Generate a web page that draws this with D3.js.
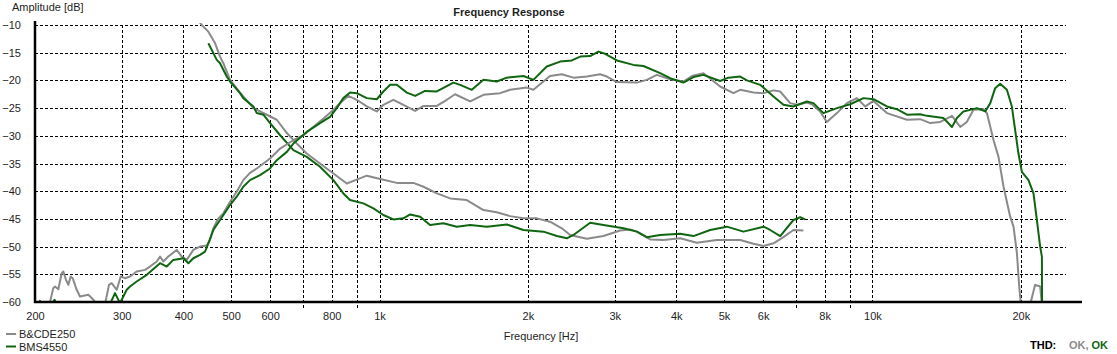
<!DOCTYPE html>
<html>
<head>
<meta charset="utf-8">
<script src="https://cdn.jsdelivr.net/npm/d3@7"></script>
<style>
  body { margin: 0; background: #fff; }
  svg { display: block; font-family: 'Liberation Sans', Arial, sans-serif; }
</style>
</head>
<body>
<svg id="chart" width="1117" height="354"></svg>
<script>
// ========= Data: [frequency Hz, amplitude dB] ========= //
const bcResponse = [
  [200, -60.2], [206, -62], [212, -62], [214.7, -59.9], [217.8, -57.5], [219.6, -57.2], [223, -57.7],
  [226.6, -54.8], [228.3, -54.5], [231.2, -56.0], [233.7, -56.9], [236.3, -55.4], [238.5, -55.7],
  [243, -57.8], [246.8, -59.0], [256.6, -58.7], [262.7, -59.6], [266.9, -60.4], [271, -62], [276, -62],
  [277.4, -60.4], [282.6, -56.9], [286.2, -56.6], [293, -57.8], [298.5, -55.4], [304.5, -55.7],
  [311.7, -55.4], [321.6, -54.5], [334.4, -54.2], [342.3, -53.6], [353.2, -52.7], [358.7, -51.8],
  [364.2, -52.7], [372.8, -51.8], [387.7, -50.6], [396.9, -51.8], [406.3, -52.4], [419, -50.6],
  [432.3, -50.0], [446.1, -49.8], [453, -48.8], [460.1, -46.7], [471, -44.9], [482.1, -44.0],
  [497.4, -41.9], [513.1, -40.1], [529.2, -38.0], [546, -36.7], [563.6, -35.9], [581.3, -35.0],
  [599.7, -34.1], [628.6, -32.3], [668.7, -30.8], [700.6, -29.9], [733.9, -28.4], [769.2, -26.9],
  [806.1, -25.3], [831.6, -24.1], [864.4, -22.8], [899, -23.5], [942.2, -24.7], [987.2, -25.6],
  [1018, -24.4], [1067, -23.5], [1118, -24.4], [1181, -25.5], [1228, -24.6], [1307, -24.6],
  [1369, -23.5], [1423, -22.5], [1527, -23.8], [1625, -22.6], [1756, -22.3], [1840, -21.7],
  [1989, -21.3], [2052, -21.7], [2218, -19.2], [2343, -18.9], [2474, -19.5], [2634, -19.3],
  [2803, -18.9], [2892, -19.3], [3030, -20.3], [3327, -20.4], [3486, -19.9], [3653, -19.0],
  [3887, -19.8], [4136, -20.2], [4302, -19.2], [4541, -18.7], [4909, -21.1], [5224, -22.3],
  [5391, -21.7], [5738, -22.2], [6013, -22.3], [6299, -21.8], [6499, -22.0], [6810, -24.1],
  [7027, -24.4], [7363, -24.0], [7536, -24.3], [7832, -25.6], [8081, -27.5], [8472, -25.9],
  [8874, -24.1], [9298, -23.2], [9668, -24.7], [10050, -23.7], [10700, -25.9], [11750, -27.1],
  [12500, -27.0], [13100, -27.7], [13730, -27.5], [14500, -26.4], [15070, -28.4], [15540, -27.5],
  [16030, -25.3], [16800, -25.2], [17070, -25.9], [17610, -30.8], [18020, -33.8], [18450, -39.2],
  [19030, -44.6], [19330, -46.4], [19640, -51.2], [19850, -57.2], [20010, -60.5], [20410, -63],
  [20890, -60.5], [21380, -56.9], [21890, -57.2], [22070, -60.5], [22400, -65]
];

const bmsResponse = [
  [201, -62], [204.7, -59.8], [207.6, -61.5], [212, -62], [216.6, -60.3], [219.1, -59.6],
  [221.4, -60.5], [224, -62], [250, -62], [280, -62],
  [283.9, -60.4], [290.6, -58.4], [297.5, -60.2], [307, -57.8], [311.7, -57.2], [321.6, -56.3],
  [337.1, -55.1], [358.7, -53.0], [370, -53.6], [381.6, -52.4], [400, -52.1], [409.4, -53.0],
  [419, -52.1], [432.3, -51.5], [442.6, -50.9], [449.5, -49.4], [460.1, -47.0], [474.7, -45.2],
  [497.4, -42.5], [513.1, -41.0], [529.2, -39.2], [546, -38.0], [572.2, -37.1], [599.7, -35.9],
  [618.8, -34.4], [648.6, -32.9], [668.7, -31.4], [711.7, -29.3], [757.3, -27.7], [793.7, -26.6],
  [818.9, -25.0], [844.5, -23.2], [871.3, -22.2], [899, -22.3], [942.2, -23.2], [987.2, -23.4],
  [1018, -22.0], [1051, -20.8], [1084, -20.8], [1136, -22.2], [1181, -22.8], [1237, -21.9],
  [1307, -22.0], [1412, -20.4], [1457, -20.8], [1539, -21.7], [1625, -19.9], [1729, -20.2],
  [1812, -19.5], [1959, -19.2], [2052, -19.9], [2184, -17.5], [2325, -16.6], [2455, -16.4],
  [2553, -15.7], [2675, -15.6], [2781, -14.8], [2869, -15.2], [3030, -16.4], [3274, -17.2],
  [3431, -17.4], [3709, -18.7], [3887, -19.6], [4136, -20.4], [4334, -19.4], [4541, -19.0],
  [4909, -20.1], [5103, -19.5], [5391, -19.3], [5563, -20.0], [5919, -20.8], [6299, -22.9],
  [6598, -24.4], [6914, -24.7], [7361, -23.8], [7592, -24.1], [7955, -25.9], [8472, -25.0],
  [9012, -24.3], [9590, -23.2], [10050, -23.4], [10700, -24.7], [11210, -25.2], [11750, -26.2],
  [12500, -26.1], [12900, -26.4], [13940, -26.8], [14500, -28.4], [14840, -26.8], [15300, -25.6],
  [16290, -25.0], [16940, -25.6], [17340, -24.1], [17740, -21.4], [18160, -20.6], [18740, -21.7],
  [19180, -24.7], [19480, -29.0], [19780, -33.2], [20100, -36.5], [20730, -38.0], [21220, -40.4],
  [21560, -45.2], [21890, -50.0], [22070, -51.8], [22080, -57.2], [22100, -65]
];

const bcLower = [
  [428, -9], [435.8, -10.0], [449.5, -11.2], [463.9, -13.3], [474.7, -15.7], [482.1, -16.9],
  [497.4, -19.9], [521.2, -22.2], [554.7, -25.0], [590.5, -26.2], [618.8, -27.1], [648.6, -29.5],
  [679.3, -31.4], [711.7, -33.2], [757.3, -35.0], [806.1, -36.8], [858.2, -38.6], [899, -37.9],
  [942.2, -37.2], [1003, -37.8], [1084, -38.5], [1171, -38.5], [1228, -39.2], [1307, -40.4],
  [1391, -41.3], [1503, -41.6], [1625, -43.4], [1729, -43.8], [1840, -44.5], [1959, -44.9],
  [2085, -44.9], [2218, -45.5], [2343, -46.7], [2436, -47.9], [2634, -48.6], [2846, -48.1],
  [3077, -47.1], [3225, -46.9], [3327, -47.3], [3540, -48.7], [3767, -48.8], [4073, -48.5],
  [4403, -49.3], [4834, -48.8], [5391, -48.8], [5738, -49.5], [6013, -49.9], [6299, -49.4],
  [6598, -48.3], [6914, -47.0], [7244, -47.1]
];

const bmsLower = [
  [449.5, -13.3], [467.5, -16.3], [474.7, -16.9], [489.8, -19.3], [497.4, -20.2], [521.2, -22.3],
  [529.2, -23.2], [554.7, -24.7], [563.6, -25.9], [581.3, -26.2], [599.7, -27.7], [628.6, -29.9],
  [668.7, -32.6], [711.7, -33.8], [757.3, -35.6], [806.1, -38.0], [844.5, -40.4], [871.3, -41.6],
  [927.4, -42.2], [971.8, -43.1], [1018, -44.3], [1067, -45.1], [1118, -44.9], [1154, -44.2],
  [1209, -44.6], [1266, -46.1], [1348, -45.8], [1435, -46.4], [1527, -46.1], [1651, -46.4],
  [1812, -46.0], [1959, -47.0], [2151, -47.3], [2290, -48.1], [2399, -48.5], [2474, -47.9],
  [2675, -45.7], [2846, -46.1], [3125, -46.7], [3327, -47.3], [3486, -48.3], [3709, -47.9],
  [4073, -47.7], [4334, -48.1], [4685, -47.0], [5065, -46.4], [5474, -47.3], [6013, -46.4],
  [6202, -47.0], [6499, -48.1], [6914, -45.2], [7136, -44.7], [7304, -45.1]
];

const labelFreqs = [200, 300, 400, 500, 600, 800, 1000, 2000, 3000, 4000, 5000, 6000, 8000, 10000, 20000];
const gridFreqs = [300, 400, 500, 600, 700, 800, 900, 1000, 2000, 3000, 4000, 5000, 6000, 7000, 8000, 9000, 10000, 20000];
const dbTicks = [-10, -15, -20, -25, -30, -35, -40, -45, -50, -55, -60];
const seriesNames = ['B&CDE250', 'BMS4550'];

// ========= Setup ========= //
const gray = '#8a8a8a';
const green = '#106610';
const ink = '#1e1e1e';
const plotLeft = 35, plotRight = 1066, plotTop = 25, plotBottom = 302;

const svg = d3.select('#chart');

const x = d3.scaleLog().domain([200, 24700]).range([plotLeft, plotRight]);
const y = d3.scaleLinear().domain([-60, -10]).range([plotBottom, plotTop]);

// ========= Grid ========= //
const grid = svg.append('g').attr('class', 'grid')
  .attr('stroke', '#000')
  .attr('stroke-width', 1)
  .attr('stroke-dasharray', '3,2')
  .attr('shape-rendering', 'crispEdges');

grid.selectAll('.hgrid')
  .data(dbTicks.filter(d => d > -60))
  .join('line')
    .attr('x1', plotLeft).attr('x2', plotRight)
    .attr('y1', d => Math.round(y(d)) + 0.5)
    .attr('y2', d => Math.round(y(d)) + 0.5);

grid.selectAll('.vgrid')
  .data(gridFreqs)
  .join('line')
    .attr('x1', d => Math.round(x(d)) + 0.5)
    .attr('x2', d => Math.round(x(d)) + 0.5)
    .attr('y1', plotTop)
    .attr('y2', d => labelFreqs.includes(d) ? plotBottom : plotBottom + 7);

// ========= Curves ========= //
svg.append('clipPath').attr('id', 'plot-clip')
  .append('rect')
    .attr('x', plotLeft).attr('y', plotTop - 2)
    .attr('width', plotRight - plotLeft + 20).attr('height', plotBottom - plotTop + 2);

const line = d3.line()
  .x(d => x(d[0]))
  .y(d => y(d[1]));

const curves = [
  { data: bcLower, color: gray },
  { data: bmsLower, color: green },
  { data: bcResponse, color: gray },
  { data: bmsResponse, color: green }
];

svg.append('g')
  .attr('clip-path', 'url(#plot-clip)')
  .selectAll('path')
  .data(curves)
  .join('path')
    .attr('d', d => line(d.data))
    .attr('fill', 'none')
    .attr('stroke', d => d.color)
    .attr('stroke-width', 2)
    .attr('stroke-linejoin', 'round');

// ========= Axes ========= //
const xAxis = d3.axisBottom(x)
  .tickValues(labelFreqs)
  .tickFormat(d => d >= 1000 ? (d / 1000) + 'k' : d)
  .tickSize(0)
  .tickPadding(10);

svg.append('g')
  .attr('transform', `translate(0,${plotBottom})`)
  .call(xAxis)
  .call(g => g.select('.domain').remove())
  .selectAll('text')
    .attr('font-family', 'Liberation Sans, Arial, sans-serif')
    .attr('font-size', '11px')
    .attr('fill', ink);

const yAxis = d3.axisLeft(y)
  .tickValues(dbTicks)
  .tickSize(0)
  .tickPadding(14);

svg.append('g')
  .attr('transform', `translate(${plotLeft},0)`)
  .call(yAxis)
  .call(g => g.select('.domain').remove())
  .selectAll('text')
    .attr('font-family', 'Liberation Sans, Arial, sans-serif')
    .attr('font-size', '11px')
    .attr('fill', ink);

svg.append('line')
  .attr('x1', plotLeft).attr('x2', plotLeft)
  .attr('y1', plotTop - 4).attr('y2', plotBottom + 1)
  .attr('stroke', '#000').attr('stroke-width', 2.5);

svg.append('line')
  .attr('x1', plotLeft - 1).attr('x2', 1082)
  .attr('y1', plotBottom).attr('y2', plotBottom)
  .attr('stroke', '#000').attr('stroke-width', 2.5);

// ========= Titles ========= //
svg.append('text')
  .attr('x', 509).attr('y', 16)
  .attr('text-anchor', 'middle')
  .attr('font-size', '11px')
  .attr('font-weight', 'bold')
  .attr('fill', ink)
  .text('Frequency Response');

svg.append('text')
  .attr('x', 12).attr('y', 11)
  .attr('font-size', '11px')
  .attr('fill', ink)
  .text('Amplitude [dB]');

svg.append('text')
  .attr('x', 541).attr('y', 340)
  .attr('text-anchor', 'middle')
  .attr('font-size', '11px')
  .attr('fill', ink)
  .text('Frequency [Hz]');

// ========= Legend ========= //
const legend = svg.append('g')
  .selectAll('g')
  .data(seriesNames)
  .join('g')
    .attr('transform', (d, i) => `translate(5,${334 + i * 12.5})`);

legend.append('line')
  .attr('x1', 1).attr('x2', 11)
  .attr('stroke', (d, i) => i === 0 ? gray : green)
  .attr('stroke-width', 2);

legend.append('text')
  .attr('x', 14).attr('y', 4)
  .attr('font-size', '11px')
  .attr('fill', ink)
  .text(d => d);

// ========= THD status ========= //
const thd = svg.append('text')
  .attr('x', 1030).attr('y', 349)
  .attr('font-size', '11px')
  .attr('font-weight', 'bold');

thd.append('tspan').attr('fill', '#000').text('THD:');
thd.append('tspan').attr('x', 1069).attr('fill', gray).text('OK,');
thd.append('tspan').attr('dx', 3).attr('fill', green).text('OK');
</script>
</body>
</html>
